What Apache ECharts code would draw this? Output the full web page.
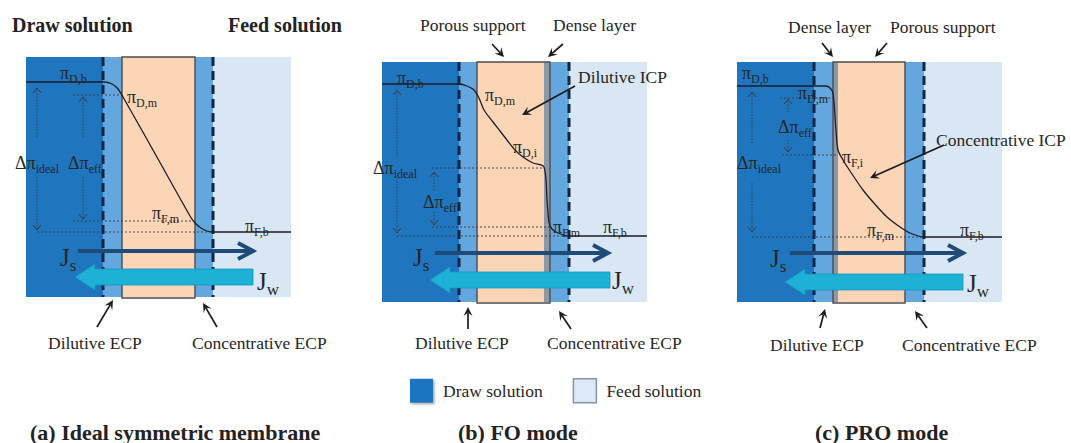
<!DOCTYPE html>
<html>
<head>
<meta charset="utf-8">
<script src="https://cdn.jsdelivr.net/npm/echarts@6/dist/echarts.min.js"></script>
<style>
  html, body { margin: 0; padding: 0; background: #ffffff; }
  #chart { width: 1071px; height: 443px; }
</style>
</head>
<body>
<div id="chart"></div>
<script>
// ---- Layer structure across each cell (position units, draw side on the left) ----
const layerEdgesA = [0, 77, 96, 169, 187, 265];
const layerKindsA = ['draw', 'ecp', 'support', 'ecp', 'feed'];
const layerEdgesB = [0, 77, 95, 162, 168, 187, 265];
const layerKindsB = ['draw', 'ecp', 'support', 'dense', 'ecp', 'feed'];
const layerEdgesC = [0, 77, 96, 101, 168, 187, 265];
const layerKindsC = ['draw', 'ecp', 'dense', 'support', 'ecp', 'feed'];

// membrane extent (support + active layer)
const membraneA = [96, 169];
const membraneB = [95, 168];
const membraneC = [96, 168];

// outer edges of the external concentration polarization layers
const ecpEdgesA = [77, 187];
const ecpEdgesB = [77, 187];
const ecpEdgesC = [77, 187];

// ---- Osmotic pressure profiles [position, osmotic pressure] ----
const profileA = [[0, 215], [78, 215], [86, 213], [92, 208], [97, 200], [127, 147], [164, 81],
                  [169, 74], [175, 69], [181, 66], [187, 65], [265, 65]];
const profileB = [[0, 218], [77, 218], [85, 216], [92, 212], [97, 204], [102, 192], [111, 180],
                  [118, 171], [125, 162], [133, 152], [141, 145], [151, 139], [162, 135],
                  [165, 102], [167, 80], [170, 73], [176, 69], [187, 66], [265, 66]];
const profileC = [[0, 216], [89, 216], [93, 214], [96, 209], [99, 172], [101, 152], [106, 142],
                  [113, 131], [126, 112], [136, 100], [150, 85], [163, 75], [173, 69],
                  [187, 65], [265, 65]];

// dotted reference levels [pressure, from, to]
const refLinesA = [[202, 47, 96], [76, 47, 169], [65, 11, 187]];
const refLinesB = [[134, 50, 162], [75, 50, 168], [66, 15, 187]];
const refLinesC = [[204, 43, 96], [147, 45, 101], [65, 15, 187]];

// driving-force arrows [position, from, to]
const deltaArrowsA = [[11, 160, 209], [11, 120, 67], [57, 160, 200], [57, 120, 78]];
const deltaArrowsB = [[15, 145, 212], [15, 124, 69], [52, 112, 130], [52, 90, 77]];
const deltaArrowsC = [[15, 159, 210], [15, 119, 70], [51, 190, 203], [51, 162, 150]];

// driving-force labels [position, pressure, subscript]
const deltaLabelsA = [[-11, 134, 'ideal'], [42, 134, 'eff']];
const deltaLabelsB = [[-9, 134, 'ideal'], [41, 100, 'eff']];
const deltaLabelsC = [[0, 139, 'ideal'], [41, 175, 'eff']];

// osmotic pressure labels [position, pressure, subscript]
const piLabelsA = [[34, 224, 'D,b'], [101, 200, 'D,m'], [126, 84, 'F,m'], [219, 71, 'F,b']];
const piLabelsB = [[15, 224, 'D,b'], [103, 207, 'D,m'], [131, 155, 'D,i'], [171, 75, 'F,m'], [221, 75, 'F,b']];
const piLabelsC = [[5, 229, 'D,b'], [61, 209, 'D,m'], [105, 145, 'F,i'], [130, 72, 'F,m'], [223, 72, 'F,b']];

// fluxes: solute [from, to, level], water [from, to, level]
const soluteFluxA = [[52, 227, 46]];
const soluteFluxB = [[53, 226, 49]];
const soluteFluxC = [[53, 226, 49]];
const waterFluxA = [[227, 49, 20]];
const waterFluxB = [[228, 48, 22]];
const waterFluxC = [[226, 48, 20]];
const fluxLabelsA = [[34, 40, 's'], [231, 16, 'w']];
const fluxLabelsB = [[31, 45, 's'], [230, 22, 'w']];
const fluxLabelsC = [[33, 44, 's'], [230, 19, 'w']];

// callout arrows [x0, y0, x1, y1]
const pointersA = [[71, -30, 87, -3], [191, -30, 177, -6]];
const pointersB = [[86, -27, 86, -5], [189, -27, 177, -9], [110, 258, 122, 245], [181, 258, 166, 245], [193, 216, 140, 187]];
const pointersC = [[83, -26, 88, -7], [190, -26, 178, -9], [85, 259, 96, 245], [150, 259, 138, 245], [207, 157, 133, 124]];

// callout texts [x, y, text]
const notesA = [[22, -46, 'Dilutive ECP'], [166, -46, 'Concentrative ECP']];
const notesB = [[33, -41, 'Dilutive ECP'], [165, -41, 'Concentrative ECP'], [38, 277, 'Porous support'],
                [171, 277, 'Dense layer'], [196, 225, 'Dilutive ICP']];
const notesC = [[33, -43, 'Dilutive ECP'], [165, -43, 'Concentrative ECP'], [51, 275, 'Dense layer'],
                [153, 275, 'Porous support'], [199, 162, 'Concentrative ICP']];

const captions = ['(a) Ideal symmetric membrane', '(b) FO mode', '(c) PRO mode'];
const headings = ['Draw solution', 'Feed solution'];

// ---- styling ----
const FONT = '"Liberation Serif", "Times New Roman", "DejaVu Serif", serif';
const INK = '#262626';
const X_MAX = 265, Y_MAX = 240;
const layerColors = { draw: '#1f76bf', ecp: '#64a7df', support: '#fcd4b6', dense: '#8c98a6', feed: '#d9e7f5' };
const layerNames = { draw: 'Draw solution', ecp: 'Concentration polarization', support: 'Porous support', dense: 'Dense layer', feed: 'Feed solution' };

const panels = [
  { left: 26, top: 57, edges: layerEdgesA, kinds: layerKindsA, membrane: membraneA, ecp: ecpEdgesA, profile: profileA,
    refs: refLinesA, deltas: deltaArrowsA, deltaLabels: deltaLabelsA, piLabels: piLabelsA, js: soluteFluxA,
    jw: waterFluxA, jLabels: fluxLabelsA, pointers: pointersA, notes: notesA },
  { left: 382, top: 62, edges: layerEdgesB, kinds: layerKindsB, membrane: membraneB, ecp: ecpEdgesB, profile: profileB,
    refs: refLinesB, deltas: deltaArrowsB, deltaLabels: deltaLabelsB, piLabels: piLabelsB, js: soluteFluxB,
    jw: waterFluxB, jLabels: fluxLabelsB, pointers: pointersB, notes: notesB },
  { left: 737, top: 62, edges: layerEdgesC, kinds: layerKindsC, membrane: membraneC, ecp: ecpEdgesC, profile: profileC,
    refs: refLinesC, deltas: deltaArrowsC, deltaLabels: deltaLabelsC, piLabels: piLabelsC, js: soluteFluxC,
    jw: waterFluxC, jLabels: fluxLabelsC, pointers: pointersC, notes: notesC }
];

// ---- render helpers ----
function rectItem(params, api) {
  const a = api.coord([api.value(0), Y_MAX]);
  const b = api.coord([api.value(1), 0]);
  return { type: 'rect', shape: { x: a[0], y: a[1], width: b[0] - a[0], height: b[1] - a[1] },
           style: { fill: api.visual('color') } };
}
function outlineItem(params, api) {
  const a = api.coord([api.value(0), Y_MAX]);
  const b = api.coord([api.value(1), 0]);
  return { type: 'rect', shape: { x: a[0], y: a[1], width: b[0] - a[0], height: b[1] - a[1] + 1 },
           style: { fill: 'none', stroke: '#4c4c4c', lineWidth: 1.4 } };
}
function dashItem(params, api) {
  const a = api.coord([api.value(0), Y_MAX]);
  const b = api.coord([api.value(0), 0]);
  return { type: 'line', shape: { x1: a[0], y1: a[1], x2: b[0], y2: b[1] },
           style: { stroke: '#0c2644', lineWidth: 3, lineDash: [9, 5] } };
}
function refItem(params, api) {
  const a = api.coord([api.value(1), api.value(0)]);
  const b = api.coord([api.value(2), api.value(0)]);
  return { type: 'line', shape: { x1: a[0], y1: a[1], x2: b[0], y2: b[1] },
           style: { stroke: '#3a3a3a', lineWidth: 0.9, lineDash: [2, 2] } };
}
function deltaItem(params, api) {
  const a = api.coord([api.value(0), api.value(1)]);
  const b = api.coord([api.value(0), api.value(2)]);
  const dir = b[1] > a[1] ? 1 : -1;
  return { type: 'group', children: [
    { type: 'line', shape: { x1: a[0], y1: a[1], x2: b[0], y2: b[1] },
      style: { stroke: '#3a3a3a', lineWidth: 0.9, lineDash: [1.5, 1.5] } },
    { type: 'polyline', shape: { points: [[b[0] - 4, b[1] - dir * 5], [b[0], b[1]], [b[0] + 4, b[1] - dir * 5]] },
      style: { stroke: '#3a3a3a', lineWidth: 1, fill: null } }
  ] };
}
function soluteItem(params, api) {
  const a = api.coord([api.value(0), api.value(2)]);
  const b = api.coord([api.value(1), api.value(2)]);
  return { type: 'group', children: [
    { type: 'line', shape: { x1: a[0], y1: a[1], x2: b[0] - 2, y2: b[1] },
      style: { stroke: '#1f4b78', lineWidth: 4 } },
    { type: 'polyline', shape: { points: [[b[0] - 15, b[1] - 8], [b[0], b[1]], [b[0] - 15, b[1] + 8]] },
      style: { stroke: '#1f4b78', lineWidth: 4, fill: null, lineJoin: 'miter' } }
  ] };
}
function waterItem(params, api) {
  const t = api.coord([api.value(0), api.value(2)]);
  const h = api.coord([api.value(1), api.value(2)]);
  const hb = 8, hh = 13, hl = 20;
  const bx = h[0] + hl;
  return { type: 'polygon', shape: { points: [
      [t[0], t[1] - hb], [bx, t[1] - hb], [bx, t[1] - hh], [h[0], h[1]],
      [bx, t[1] + hh], [bx, t[1] + hb], [t[0], t[1] + hb]] },
    style: { fill: '#1db1d6', stroke: '#1796bc', lineWidth: 0.8 } };
}
function pointerItem(params, api) {
  const a = api.coord([api.value(0), api.value(1)]);
  const b = api.coord([api.value(2), api.value(3)]);
  const dx = b[0] - a[0], dy = b[1] - a[1], len = Math.hypot(dx, dy);
  const ux = dx / len, uy = dy / len, nx = -uy, ny = ux;
  const L = 9, W = 4.5;
  const back = [b[0] - ux * L, b[1] - uy * L];
  const notch = [b[0] - ux * L * 0.6, b[1] - uy * L * 0.6];
  return { type: 'group', children: [
    { type: 'line', shape: { x1: a[0], y1: a[1], x2: notch[0], y2: notch[1] },
      style: { stroke: '#1c1c1c', lineWidth: 1.7 } },
    { type: 'polygon', shape: { points: [b, [back[0] + nx * W, back[1] + ny * W], notch, [back[0] - nx * W, back[1] - ny * W]] },
      style: { fill: '#1c1c1c' } }
  ] };
}

const richPi = {
  p: { fontFamily: FONT, fontSize: 18, lineHeight: 24, verticalAlign: 'middle', fill: INK },
  s: { fontFamily: FONT, fontSize: 12, lineHeight: 12, verticalAlign: 'bottom', fill: INK }
};
const richJ = {
  j: { fontFamily: FONT, fontSize: 25, lineHeight: 34, verticalAlign: 'middle', fill: INK },
  s: { fontFamily: FONT, fontSize: 17, lineHeight: 17, verticalAlign: 'bottom', fill: INK }
};

function textSeries(i, arr, makeText, rich) {
  return {
    type: 'custom', xAxisIndex: i, yAxisIndex: i, z: 10, silent: true,
    data: arr.map(d => [d[0], d[1]]),
    renderItem: (params, api) => {
      const c = api.coord([api.value(0), api.value(1)]);
      const style = { text: makeText(arr[params.dataIndex][2]), fill: INK, fontFamily: FONT, fontSize: 17.5,
                      align: 'left', verticalAlign: 'middle' };
      if (rich) style.rich = rich;
      return { type: 'text', x: c[0], y: c[1], style };
    }
  };
}

const grids = [], xAxes = [], yAxes = [], series = [];
panels.forEach((p, i) => {
  grids.push({ left: p.left, top: p.top, width: X_MAX, height: Y_MAX });
  xAxes.push({ type: 'value', gridIndex: i, min: 0, max: X_MAX, show: false });
  yAxes.push({ type: 'value', gridIndex: i, min: 0, max: Y_MAX, show: false });

  // solution / polarization / membrane layers
  const kinds = [...new Set(p.kinds)];
  kinds.forEach(k => {
    const segs = [];
    p.kinds.forEach((kk, j) => { if (kk === k) segs.push([p.edges[j], p.edges[j + 1]]); });
    series.push({ type: 'custom', name: layerNames[k], xAxisIndex: i, yAxisIndex: i, z: 1, silent: true,
                  itemStyle: { color: layerColors[k] }, data: segs, renderItem: rectItem });
  });
  series.push({ type: 'custom', xAxisIndex: i, yAxisIndex: i, z: 2, silent: true,
                data: [p.membrane], renderItem: outlineItem });
  series.push({ type: 'custom', xAxisIndex: i, yAxisIndex: i, z: 3, silent: true,
                data: p.ecp.map(x => [x]), renderItem: dashItem });
  series.push({ type: 'custom', xAxisIndex: i, yAxisIndex: i, z: 3, silent: true,
                data: p.refs, renderItem: refItem });
  series.push({ type: 'line', xAxisIndex: i, yAxisIndex: i, z: 4, silent: true, symbol: 'none',
                smooth: 0.3, data: p.profile, lineStyle: { color: '#1e1e26', width: 1.3 } });
  series.push({ type: 'custom', xAxisIndex: i, yAxisIndex: i, z: 4, silent: true,
                data: p.deltas, renderItem: deltaItem });
  series.push({ type: 'custom', xAxisIndex: i, yAxisIndex: i, z: 5, silent: true,
                data: p.js, renderItem: soluteItem });
  series.push({ type: 'custom', xAxisIndex: i, yAxisIndex: i, z: 5, silent: true,
                data: p.jw, renderItem: waterItem });
  series.push({ type: 'custom', xAxisIndex: i, yAxisIndex: i, z: 5, silent: true,
                data: p.pointers, renderItem: pointerItem });

  series.push(textSeries(i, p.piLabels, s => '{p|π}{s|' + s + '}', richPi));
  series.push(textSeries(i, p.deltaLabels, s => '{p|Δπ}{s|' + s + '}', richPi));
  series.push(textSeries(i, p.jLabels, s => '{j|J}{s|' + s + '}', richJ));
  series.push(textSeries(i, p.notes, s => s, null));
});

const headStyle = { fontFamily: FONT, fontWeight: 'bold', fontSize: 20, lineHeight: 20, color: '#222' };
const capStyle = { fontFamily: FONT, fontWeight: 'bold', fontSize: 22, lineHeight: 22, color: '#222' };

const option = {
  animation: false,
  backgroundColor: '#ffffff',
  title: [
    { text: headings[0], left: 12, top: 15, padding: 0, textStyle: headStyle },
    { text: headings[1], left: 228, top: 15, padding: 0, textStyle: headStyle },
    { text: captions[0], left: 30, top: 421, padding: 0, textStyle: capStyle },
    { text: captions[1], left: 458, top: 421, padding: 0, textStyle: capStyle },
    { text: captions[2], left: 815, top: 421, padding: 0, textStyle: capStyle }
  ],
  legend: {
    left: 405, top: 373, itemWidth: 23, itemHeight: 24, itemGap: 30, selectedMode: false, icon: 'rect',
    textStyle: { fontFamily: FONT, fontSize: 17.5, color: INK, padding: [0, 0, 0, 5] },
    data: [
      { name: 'Draw solution', itemStyle: { color: '#1f76bf', shadowColor: 'rgba(0,0,0,0.35)', shadowBlur: 2, shadowOffsetX: 1.5, shadowOffsetY: 1.5 } },
      { name: 'Feed solution', itemStyle: { color: '#dbe8f6', borderColor: '#8795a3', borderWidth: 1.5 } }
    ]
  },
  grid: grids,
  xAxis: xAxes,
  yAxis: yAxes,
  series: series
};

const chart = echarts.init(document.getElementById('chart'), null, { renderer: 'svg' });
chart.setOption(option);
</script>
</body>
</html>
